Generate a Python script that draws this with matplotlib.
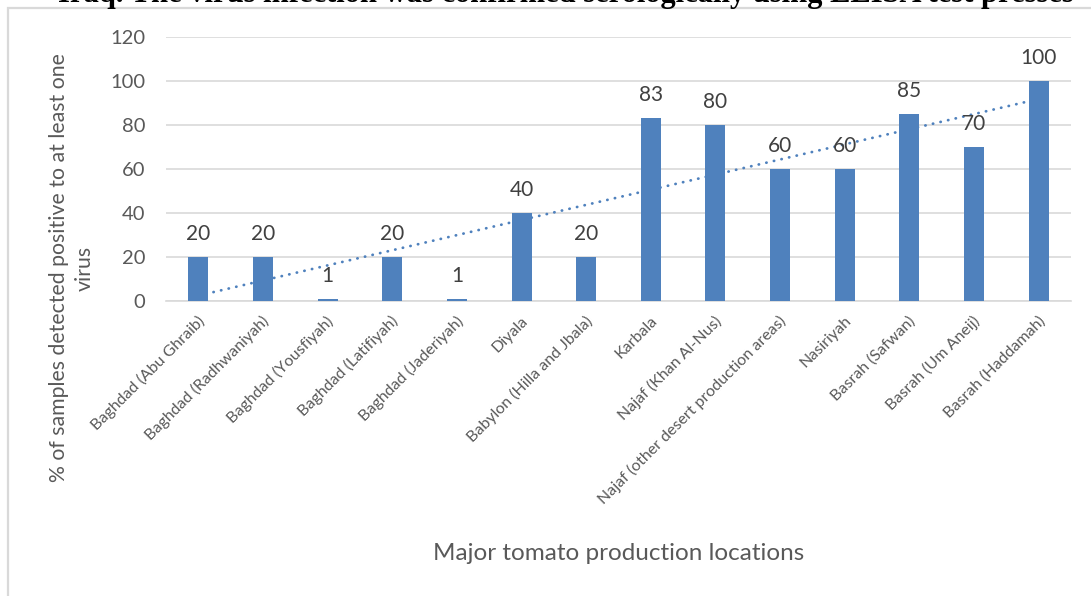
import matplotlib
matplotlib.use("Agg")
import matplotlib.pyplot as plt
from matplotlib.patches import Rectangle
import matplotlib.transforms as mtransforms

categories = [
    "Baghdad (Abu Ghraib)", "Baghdad (Radhwaniyah)", "Baghdad (Yousfiyah)",
    "Baghdad (Latifiyah)", "Baghdad (Jaderiyah)", "Diyala",
    "Babylon (Hilla and Jbala)", "Karbala", "Najaf (Khan Al-Nus)",
    "Najaf (other desert production areas)", "Nasiriyah", "Basrah (Safwan)",
    "Basrah (Um Aneij)", "Basrah (Haddamah)",
]
values = [20, 20, 1, 20, 1, 40, 20, 83, 80, 60, 60, 85, 70, 100]
# linear trendline (value at first and last category)
trend_first_last = [2.3, 91.7]
yticks = [0, 20, 40, 60, 80, 100, 120]

ylabel = "% of samples detected positive to at least one\nvirus"
xlabel = "Major tomato production locations"
clipped_caption = ("Iraq. The virus infection was confirmed serologically "
                   "using ELISA test presses")

BAR = "#4F81BD"
GRID = "#D9D9D9"
TXT = "#595959"
LBL = "#404040"
FONT = ["Lato", "DejaVu Sans"]

W, H = 1091, 596
fig = plt.figure(figsize=(W / 100, H / 100), dpi=100)
fig.patch.set_facecolor("white")

def fx(px):
    return px / W

def fy(py):
    return 1 - py / H

# chart frame (only top & left edges visible)
fig.patches.append(Rectangle((fx(8), fy(620)), fx(1200), 612 / H,
                             transform=fig.transFigure, fill=False,
                             edgecolor=GRID, linewidth=1.6, zorder=0))

# clipped caption text from the page above the chart
fig.text(fx(58), fy(2), clipped_caption, fontsize=22, fontweight="bold",
         family=["Liberation Serif", "DejaVu Serif"], va="baseline",
         ha="left", color="black")

left, right, top, bottom = 166, 1071, 36.7, 300.7
ax = fig.add_axes([fx(left), fy(bottom), fx(right - left), (bottom - top) / H])
x = list(range(len(categories)))

ax.set_xlim(-0.5, len(categories) - 0.5)
ax.set_ylim(0, 120)
ax.set_yticks(yticks)
ax.yaxis.grid(True, color=GRID, linewidth=1.2, zorder=0)
ax.set_axisbelow(True)
for s in ["top", "right", "left"]:
    ax.spines[s].set_visible(False)
ax.spines["bottom"].set_color(GRID)
ax.spines["bottom"].set_linewidth(1.2)
ax.tick_params(axis="both", length=0)
ax.tick_params(axis="y", pad=15, labelsize=14.5, labelcolor=TXT)
for t in ax.get_yticklabels():
    t.set_family(FONT)

ax.plot([x[0], x[-1]], trend_first_last, color=BAR, linewidth=2.0,
        linestyle=(0, (0.1, 2.7)), dash_capstyle="round", zorder=2)
ax.bar(x, values, width=0.31, color=BAR, zorder=3)

for xi, v in zip(x, values):
    ax.annotate(str(v), (xi, v), xytext=(0, 12.2), textcoords="offset points",
                ha="center", va="baseline", fontsize=15, color=LBL,
                family=FONT, zorder=4)

ax.set_xticks(x)
ax.set_xticklabels(categories, rotation=45, ha="right", va="center",
                   rotation_mode="anchor", fontsize=11.5, color=TXT,
                   family=FONT)
ax.tick_params(axis="x", pad=13)
offset = mtransforms.ScaledTranslation(4 / 100, 0, fig.dpi_scale_trans)
for t in ax.get_xticklabels():
    t.set_transform(t.get_transform() + offset)

fig.text(fx(72), fy(268), ylabel, rotation=90, ha="center", va="center",
         multialignment="center", fontsize=15.3, color=TXT, family=FONT,
         linespacing=1.35)
fig.text(fx(619), fy(553), xlabel, ha="center", va="center", fontsize=17.5,
         color=TXT, family=FONT)

fig.savefig("out.png", dpi=100, facecolor="white")
